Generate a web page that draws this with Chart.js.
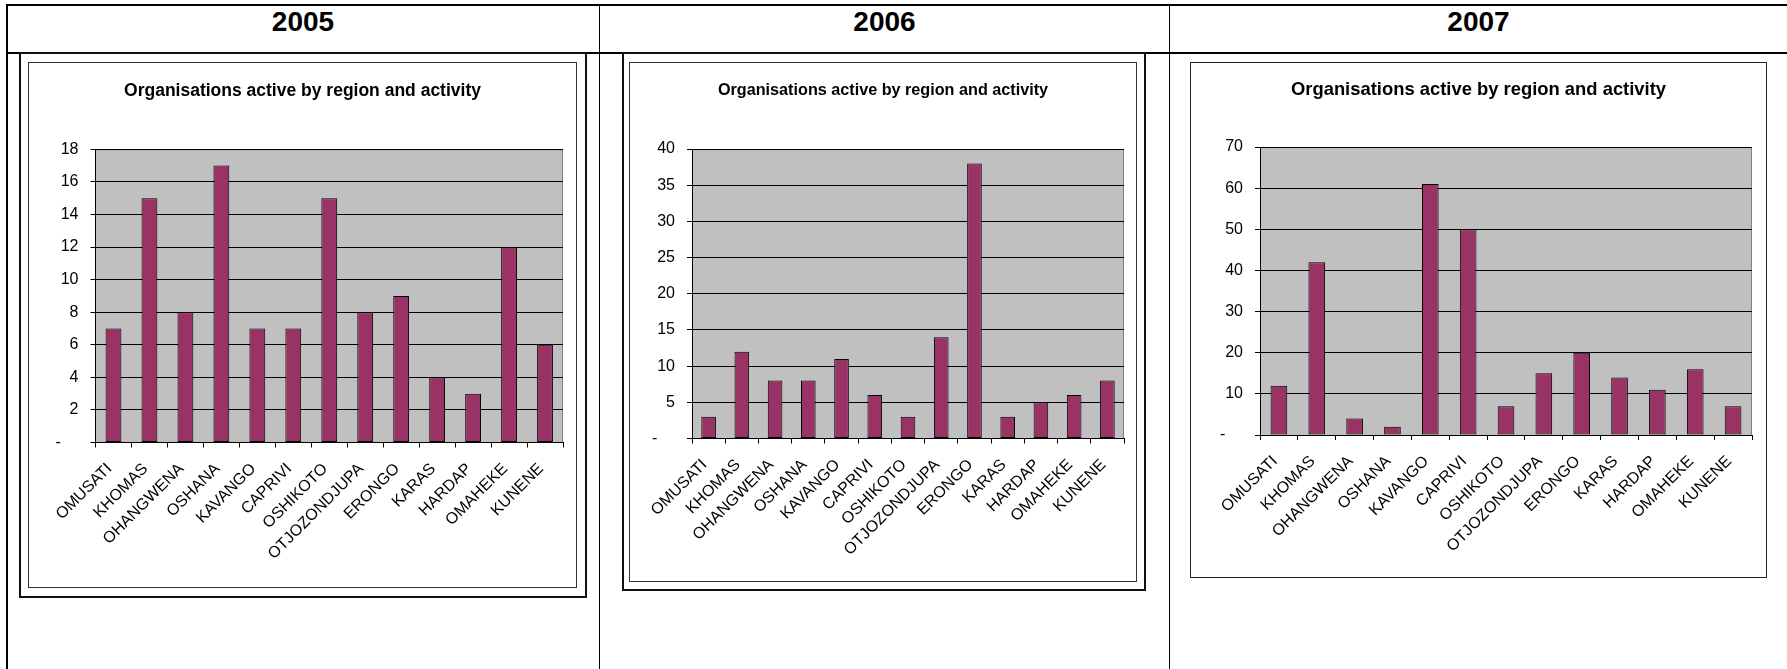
<!DOCTYPE html>
<html>
<head>
<meta charset="utf-8">
<script src="https://cdn.jsdelivr.net/npm/chart.js@4.4.1/dist/chart.umd.min.js"></script>
<style>
  body { margin: 0; background: #fff; font-family: 'Liberation Sans', Arial, sans-serif; }
  #page { position: relative; width: 1787px; height: 669px; overflow: hidden; background: #fff; }
  .rule { position: absolute; background: #000; }
  .year { position: absolute; top: 5px; height: 47px; line-height: 33px; text-align: center;
          font-weight: bold; font-size: 28px; color: #000; }
  .frame { position: absolute; box-sizing: border-box; }
  canvas { position: absolute; }
</style>
</head>
<body>
<div id="page">
  <!-- table grid -->
  <div class="rule" style="left:6px; top:4px; width:1781px; height:2px;"></div>
  <div class="rule" style="left:6px; top:52px; width:1781px; height:2px;"></div>
  <div class="rule" style="left:6px; top:4px; width:2px; height:665px;"></div>
  <div class="rule" style="left:599px; top:4px; width:1px; height:665px;"></div>
  <div class="rule" style="left:1169px; top:4px; width:1px; height:665px;"></div>

  <div class="year" id="y0" style="left:7px; width:592px;"></div>
  <div class="year" id="y1" style="left:600px; width:569px;"></div>
  <div class="year" id="y2" style="left:1170px; width:617px;"></div>

  <!-- chart frames -->
  <div class="frame" style="left:19px; top:52px; width:568px; height:546px; border:2px solid #111;"></div>
  <div class="frame" style="left:28px; top:62px; width:549px; height:526px; border:1px solid #333;"></div>
  <div class="frame" style="left:622px; top:52px; width:524px; height:539px; border:2px solid #111;"></div>
  <div class="frame" style="left:629px; top:62px; width:508px; height:520px; border:1px solid #333;"></div>
  <div class="frame" style="left:1190px; top:62px; width:577px; height:516px; border:1px solid #222;"></div>

  <canvas id="c2005" width="547" height="524" style="left:29px; top:63px;"></canvas>
  <canvas id="c2006" width="506" height="518" style="left:630px; top:63px;"></canvas>
  <canvas id="c2007" width="575" height="514" style="left:1191px; top:63px;"></canvas>
</div>
<script>
const years = ['2005', '2006', '2007'];
const regions = ['OMUSATI', 'KHOMAS', 'OHANGWENA', 'OSHANA', 'KAVANGO', 'CAPRIVI', 'OSHIKOTO',
                 'OTJOZONDJUPA', 'ERONGO', 'KARAS', 'HARDAP', 'OMAHEKE', 'KUNENE'];
const orgs2005 = [7, 15, 8, 17, 7, 7, 15, 8, 9, 4, 3, 12, 6];
const orgs2006 = [3, 12, 8, 8, 11, 6, 3, 14, 38, 3, 5, 6, 8];
const orgs2007 = [12, 42, 4, 2, 61, 50, 7, 15, 20, 14, 11, 16, 7];
const yMaxes = [18, 40, 70];
const ySteps = [2, 5, 10];
const chartTitle = 'Organisations active by region and activity';

const FONT = "'Liberation Sans', Arial, sans-serif";

// grey plot area with a darker top/right edge, drawn under the grid
const plotBg = {
  id: 'plotBg',
  beforeDraw(chart) {
    const { ctx, chartArea: a } = chart;
    ctx.save();
    ctx.fillStyle = '#c0c0c0';
    ctx.fillRect(a.left, a.top, a.right - a.left, a.bottom - a.top);
    ctx.strokeStyle = '#808080';
    ctx.lineWidth = 1;
    ctx.beginPath();
    ctx.moveTo(a.left, a.top + 0.5);
    ctx.lineTo(a.right - 0.5, a.top + 0.5);
    ctx.lineTo(a.right - 0.5, a.bottom);
    ctx.stroke();
    ctx.restore();
  }
};

// per-chart box sizes: plot left offset, x axis height, side pad, title centre / size
const boxes = [
  { plotLeft: 66.5, xH: 144.5, side: 13, plotTop: 86.3, titleY: 28, titleSize: 17.5 },
  { plotLeft: 62,   xH: 142.5, side: 12, plotTop: 86,   titleY: 28, titleSize: 16.2 },
  { plotLeft: 69,   xH: 142,   side: 14, plotTop: 84,   titleY: 27, titleSize: 18.4 }
];

function makeChart(id, values, i) {
  const b = boxes[i];
  const lh = b.titleSize * 1.2;
  const ctx = document.getElementById(id).getContext('2d');
  return new Chart(ctx, {
    type: 'bar',
    data: {
      labels: regions,
      datasets: [{
        data: values,
        backgroundColor: '#993366',
        borderColor: '#000',
        borderWidth: 1,
        borderSkipped: false,
        categoryPercentage: 1,
        barPercentage: 0.44
      }]
    },
    options: {
      responsive: false,
      animation: false,
      layout: { padding: { left: b.side, right: b.side, top: 0, bottom: 0 } },
      plugins: {
        legend: { display: false },
        tooltip: { enabled: false },
        title: {
          display: true,
          text: chartTitle,
          color: '#000',
          font: { family: FONT, size: b.titleSize, weight: 'bold', lineHeight: 1.2 },
          padding: { top: b.titleY - lh / 2, bottom: b.plotTop - b.titleY - lh / 2 }
        }
      },
      scales: {
        x: {
          grid: { offset: true, drawOnChartArea: false, drawTicks: true, tickLength: 5, color: '#000' },
          border: { display: true, color: '#000' },
          ticks: {
            autoSkip: false, minRotation: 45, maxRotation: 45, padding: 12, labelOffset: -4,
            color: '#000', font: { family: FONT, size: 16 }
          },
          afterFit: s => { s.height = b.xH; }
        },
        y: {
          min: 0, max: yMaxes[i],
          grid: { color: '#000', tickLength: 5, drawTicks: true },
          border: { display: true, color: '#000' },
          ticks: {
            stepSize: ySteps[i], padding: 12, color: '#000',
            font: { family: FONT, size: 16 },
            callback: v => v === 0 ? '-    ' : v
          },
          afterFit: s => { s.width = b.plotLeft - b.side; }
        }
      }
    },
    plugins: [plotBg]
  });
}

years.forEach((y, i) => { document.getElementById('y' + i).textContent = y; });
makeChart('c2005', orgs2005, 0);
makeChart('c2006', orgs2006, 1);
makeChart('c2007', orgs2007, 2);
</script>
</body>
</html>
